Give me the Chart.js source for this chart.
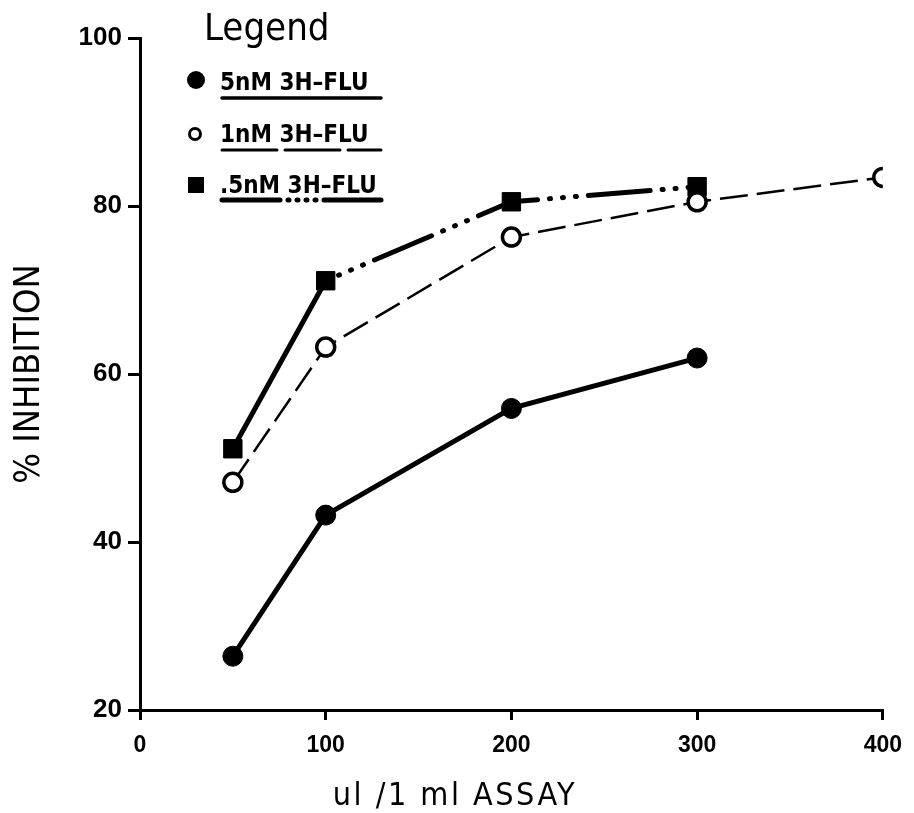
<!DOCTYPE html>
<html>
<head>
<meta charset="utf-8">
<script src="https://cdn.jsdelivr.net/npm/chart.js@4.4.1/dist/chart.umd.min.js"></script>
<style>
html,body{margin:0;padding:0;background:#fff;}
#wrap{width:914px;height:813px;position:relative;}
</style>
</head>
<body>
<div id="wrap"><canvas id="c" width="914" height="813"></canvas></div>
<script>
const xValues5nM = [50, 100, 200, 300];
const y5nM = [26.4, 43.2, 55.9, 61.9];
const xValues1nM = [50, 100, 200, 300, 400];
const y1nM = [47.1, 63.2, 76.3, 80.5, 83.4];
const xValuesHalfnM = [50, 100, 200, 300];
const yHalfnM = [51.1, 71.1, 80.5, 82.3];
const seriesLabels = ['5nM 3H\u2013FLU', '1nM 3H\u2013FLU', '.5nM 3H\u2013FLU'];
const xTicks = [0, 100, 200, 300, 400];
const yTicks = [20, 40, 60, 80, 100];
const xTitle = 'ul /1 ml ASSAY';
const yTitle = '% INHIBITION';
const legendTitle = 'Legend';

const COND = '"DejaVu Sans Condensed","Liberation Sans",sans-serif';
const SANS = '"Liberation Sans","DejaVu Sans",sans-serif';

function pts(xs, ys){ return xs.map((x,i)=>({x:x, y:ys[i]})); }

const halfDash = [1, 12, 1, 12, 1, 12, 62, 12];

const legendPlugin = {
  id: 'paperLegend',
  afterDraw(chart){
    const ctx = chart.ctx;
    ctx.save();
    ctx.fillStyle = '#000';
    ctx.textAlign = 'left';
    ctx.textBaseline = 'alphabetic';
    ctx.font = '38px ' + COND;
    ctx.fillText(legendTitle, 204, 40);

    // x axis title (drawn off-centre as in the original)
    ctx.font = '32px ' + COND;
    ctx.letterSpacing = '2.5px';
    ctx.textAlign = 'center';
    ctx.fillText(xTitle, 455, 805);
    ctx.letterSpacing = '0px';

    const rows = [
      {my: 80, base: 90, line: 98, dash: [], lw: 3.5},
      {my: 134, base: 142, line: 150, dash: [55, 8], lw: 3},
      {my: 185, base: 193, line: 200, dash: [58, 8, 1, 8, 1, 8, 1, 8, 1, 8], lw: 5}
    ];
    chart.data.datasets.forEach((ds, i) => {
      const r = rows[i];
      ctx.save();
      ctx.lineWidth = 3;
      ctx.strokeStyle = '#000';
      ctx.fillStyle = '#000';
      if (ds.pointStyle === 'rect') {
        ctx.fillRect(188, r.my - 8, 16, 16);
      } else if (ds.pointBackgroundColor === '#fff') {
        ctx.fillStyle = '#fff';
        ctx.beginPath();
        ctx.arc(195, r.my, 5.5, 0, Math.PI * 2);
        ctx.fill();
        ctx.stroke();
      } else {
        ctx.beginPath();
        ctx.arc(196, r.my, 9, 0, Math.PI * 2);
        ctx.fill();
      }
      ctx.restore();
      ctx.font = 'bold 24px ' + COND;
      ctx.fillStyle = '#000';
      ctx.textAlign = 'left';
      ctx.textBaseline = 'alphabetic';
      ctx.fillText(ds.label, 220, r.base);
      ctx.save();
      ctx.strokeStyle = '#000';
      ctx.lineWidth = r.lw;
      ctx.lineCap = 'round';
      ctx.setLineDash(r.dash);
      ctx.beginPath();
      ctx.moveTo(222, r.line);
      ctx.lineTo(381, r.line);
      ctx.stroke();
      ctx.restore();
    });
    ctx.restore();
  }
};

new Chart(document.getElementById('c'), {
  type: 'scatter',
  data: {
    datasets: [
      {
        label: seriesLabels[0],
        data: pts(xValues5nM, y5nM),
        showLine: true,
        borderColor: '#000',
        borderWidth: 5,
        borderCapStyle: 'round',
        pointStyle: 'circle',
        pointRadius: 10,
        pointBackgroundColor: '#000',
        pointBorderColor: '#000',
        pointBorderWidth: 1
      },
      {
        label: seriesLabels[1],
        data: pts(xValues1nM, y1nM),
        showLine: true,
        borderColor: '#000',
        borderWidth: 2.5,
        borderDash: [28, 9],
        pointStyle: 'circle',
        pointRadius: 9,
        pointBackgroundColor: '#fff',
        pointBorderColor: '#000',
        pointBorderWidth: 3.5
      },
      {
        label: seriesLabels[2],
        data: pts(xValuesHalfnM, yHalfnM),
        showLine: true,
        borderColor: '#000',
        borderWidth: 5,
        borderCapStyle: 'round',
        segment: {
          borderDash: c => c.p0DataIndex === 0 ? [] : halfDash,
          borderDashOffset: c => c.p0DataIndex === 0 ? 0 : -14
        },
        pointStyle: 'rect',
        pointRadius: 13,
        pointBackgroundColor: '#000',
        pointBorderColor: '#000',
        pointBorderWidth: 1
      }
    ]
  },
  options: {
    responsive: false,
    animation: false,
    layout: { padding: { top: 38, right: 29, left: 0, bottom: 0 } },
    plugins: { legend: { display: false }, tooltip: { enabled: false } },
    scales: {
      x: {
        type: 'linear',
        min: 0, max: 400,
        afterFit(s){ s.height = 103; },
        afterBuildTicks(s){ s.ticks = xTicks.map(v => ({value: v})); },
        border: { display: true, color: '#000', width: 3 },
        grid: { display: true, drawOnChartArea: false, drawTicks: true, tickLength: 10, lineWidth: 3, color: '#000' },
        ticks: { color: '#000', padding: 12, font: { family: SANS, size: 23, weight: 'bold' } },
        title: { display: false }
      },
      y: {
        type: 'linear',
        min: 20, max: 100,
        afterFit(s){ s.width = 140; },
        afterBuildTicks(s){ s.ticks = yTicks.map(v => ({value: v})); },
        border: { display: true, color: '#000', width: 3 },
        grid: { display: true, drawOnChartArea: false, drawTicks: true, tickLength: 12, lineWidth: 3, color: '#000' },
        ticks: { color: '#000', padding: 6, font: { family: SANS, size: 26, weight: 'bold' } },
        title: { display: true, text: yTitle, color: '#000', padding: { top: 8, bottom: 0 }, font: { family: COND, size: 36 } }
      }
    }
  },
  plugins: [legendPlugin]
});
</script>
</body>
</html>
